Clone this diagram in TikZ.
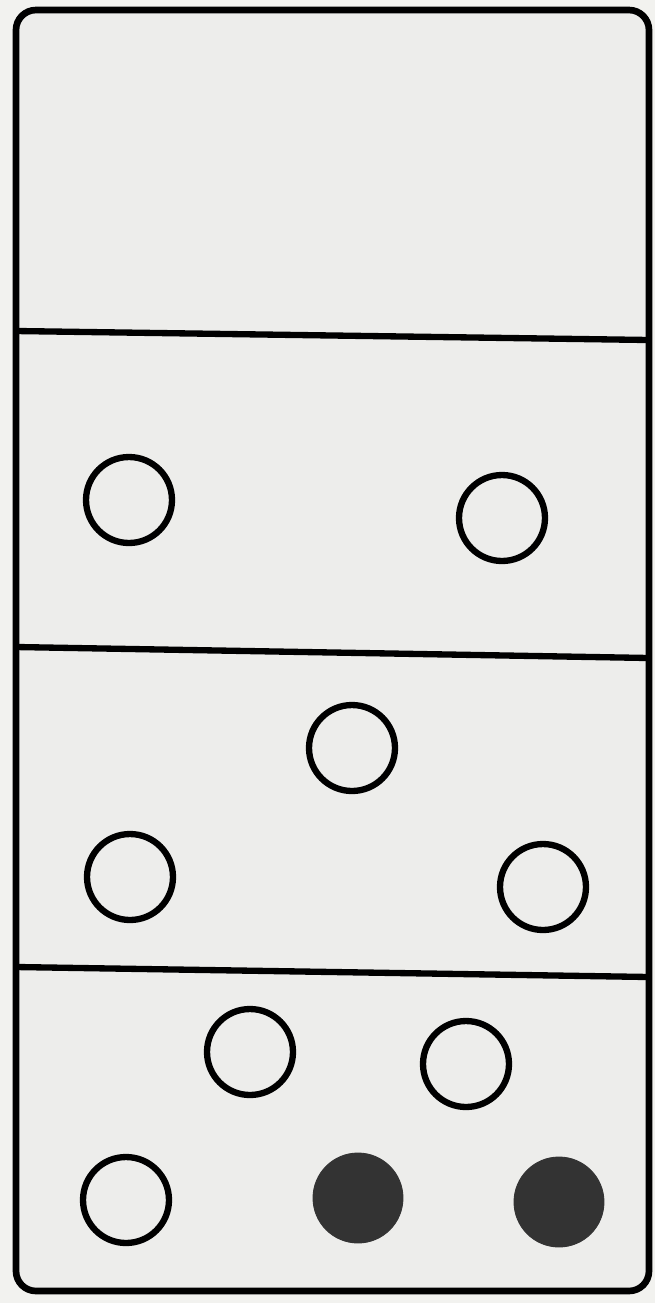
\documentclass[tikz,border=0pt]{standalone}
\begin{document}
\begin{tikzpicture}[x=0.02cm,y=-0.02cm,
  frame/.style={draw=black,line width=3.8pt,rounded corners=0.4cm,fill=panelgray},
  divider/.style={draw=black,line width=3.6pt},
  pip/.style={circle,draw=black,line width=3.6pt,minimum size=1.72cm,inner sep=0pt,fill=panelgray},
  fullpip/.style={pip,draw=dotgray,fill=dotgray,line width=0.5pt,minimum size=1.8cm}]
\definecolor{panelgray}{HTML}{EDEDEB}
\definecolor{paper}{HTML}{F2F2EF}
\definecolor{dotgray}{HTML}{333333}
\useasboundingbox[fill=paper] (0,0) rectangle (655,1303);
\path[frame] (16,10) rectangle (649,1291);
% dividers
\coordinate (d1l) at (16,331); \coordinate (d1r) at (649,340);
\coordinate (d2l) at (16,647); \coordinate (d2r) at (649,658);
\coordinate (d3l) at (16,967); \coordinate (d3r) at (649,977);
\draw[divider] (d1l) -- (d1r);
\draw[divider] (d2l) -- (d2r);
\draw[divider] (d3l) -- (d3r);
% panel 2
\node[pip] (p21) at (129,500) {};
\node[pip] (p22) at (502,518) {};
% panel 3
\node[pip] (p31) at (352,748) {};
\node[pip] (p32) at (130,877) {};
\node[pip] (p33) at (543,887) {};
% panel 4
\node[pip] (p41) at (250,1052) {};
\node[pip] (p42) at (466,1064) {};
\node[pip] (p43) at (126,1200) {};
\node[fullpip] (p44) at (358,1198) {};
\node[fullpip] (p45) at (559,1202) {};
\end{tikzpicture}
\end{document}
